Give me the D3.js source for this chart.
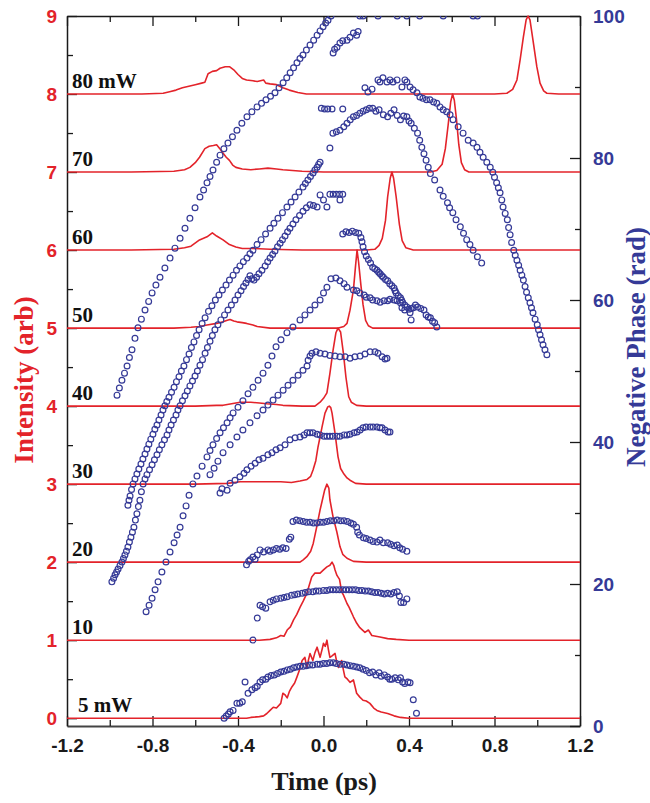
<!DOCTYPE html>
<html>
<head>
<meta charset="utf-8">
<script src="https://cdnjs.cloudflare.com/ajax/libs/d3/7.8.5/d3.min.js"></script>
<style>
  body { margin: 0; background: #fff; }
</style>
</head>
<body>
<script>
// ---- data: time (ps), intensity (arb, with offset) / negative phase (rad)

var seriesLabels = ["5 mW", "10", "20", "30", "40", "50", "60", "70", "80 mW"];
var levels = [0, 1, 2, 3, 4, 5, 6, 7, 8];

var xTicks = [-1.2, -0.8, -0.4, 0, 0.4, 0.8, 1.2];
var xMinor = [-1.0, -0.6, -0.2, 0.2, 0.6, 1.0];
var intensityTicks = [0, 1, 2, 3, 4, 5, 6, 7, 8, 9];
var intensityMinor = [0.5, 1.5, 2.5, 3.5, 4.5, 5.5, 6.5, 7.5, 8.5];
var phaseTicks = [0, 20, 40, 60, 80, 100];
var phaseMinor = [10, 30, 50, 70, 90];

var intensity5 = [[-1.2,0],[-0.6,0],[-0.4,0],[-0.36,0.0],[-0.34,0.01],[-0.3,0.02],[-0.28,0.03],[-0.265,0.06],[-0.25,0.1],[-0.235,0.14],[-0.22,0.13],[-0.2,0.19],[-0.19,0.32],[-0.18,0.3],[-0.17,0.26],[-0.16,0.34],[-0.148,0.4],[-0.135,0.45],[-0.124,0.53],[-0.112,0.62],[-0.1,0.74],[-0.087,0.78],[-0.078,0.65],[-0.07,0.75],[-0.063,0.83],[-0.05,0.74],[-0.04,0.84],[-0.03,0.91],[-0.016,0.78],[-0.005,0.9],[0.0,0.96],[0.008,0.92],[0.016,1.0],[0.023,0.88],[0.03,0.78],[0.04,0.8],[0.054,0.83],[0.062,0.72],[0.07,0.65],[0.085,0.74],[0.093,0.62],[0.1,0.53],[0.112,0.5],[0.124,0.46],[0.14,0.49],[0.148,0.4],[0.155,0.32],[0.17,0.27],[0.185,0.23],[0.2,0.22],[0.217,0.19],[0.235,0.13],[0.25,0.1],[0.27,0.08],[0.3,0.06],[0.33,0.03],[0.36,0.01],[0.4,0.0],[0.8,0.0],[1.2,0.0]];
var intensity10 = [[-1.2,1.0],[-0.6,1.0],[-0.35,1.0],[-0.3,1.0],[-0.25,1.01],[-0.22,1.03],[-0.2,1.06],[-0.185,1.05],[-0.17,1.13],[-0.155,1.17],[-0.14,1.26],[-0.125,1.33],[-0.11,1.42],[-0.095,1.5],[-0.078,1.6],[-0.065,1.72],[-0.055,1.81],[-0.04,1.86],[-0.016,1.86],[0.0,1.9],[0.016,1.94],[0.03,1.96],[0.04,2.0],[0.048,1.96],[0.054,1.9],[0.063,1.83],[0.075,1.78],[0.085,1.62],[0.093,1.58],[0.11,1.47],[0.12,1.42],[0.14,1.3],[0.155,1.22],[0.17,1.16],[0.194,1.1],[0.21,1.13],[0.226,1.06],[0.264,1.04],[0.3,1.02],[0.34,1.01],[0.4,1.0],[1.2,1.0]];
var intensity20 = [[-1.2,2.0],[-0.6,2.0],[-0.3,2.0],[-0.15,2.0],[-0.11,2.0],[-0.095,2.03],[-0.078,2.07],[-0.06,2.14],[-0.048,2.24],[-0.032,2.45],[-0.016,2.67],[-0.005,2.8],[0.005,2.92],[0.016,3.0],[0.025,2.95],[0.03,2.8],[0.044,2.59],[0.063,2.38],[0.077,2.2],[0.09,2.1],[0.11,2.05],[0.14,2.01],[0.2,2.0],[1.2,2.0]];
var intensity30 = [[-1.2,3.0],[-0.9,3.0],[-0.6,3.0],[-0.45,3.01],[-0.39,3.03],[-0.3,3.03],[-0.2,3.03],[-0.15,3.02],[-0.11,3.04],[-0.077,3.06],[-0.06,3.1],[-0.049,3.18],[-0.036,3.3],[-0.026,3.47],[-0.015,3.62],[-0.007,3.73],[0.007,3.91],[0.02,3.99],[0.027,4.0],[0.034,3.98],[0.04,3.91],[0.054,3.65],[0.068,3.35],[0.08,3.2],[0.093,3.14],[0.11,3.08],[0.124,3.05],[0.15,3.01],[0.2,3.0],[1.2,3.0]];
var intensity40 = [[-1.2,4.0],[-0.9,4.0],[-0.6,4.0],[-0.5,4.01],[-0.47,4.01],[-0.43,4.03],[-0.39,4.05],[-0.36,4.05],[-0.34,4.05],[-0.3,4.04],[-0.265,4.03],[-0.22,4.02],[-0.19,4.01],[-0.1,4.0],[-0.04,4.0],[-0.016,4.05],[0.0,4.1],[0.016,4.17],[0.03,4.42],[0.045,4.72],[0.058,4.94],[0.068,5.0],[0.08,4.95],[0.093,4.68],[0.105,4.37],[0.118,4.12],[0.13,4.05],[0.155,4.01],[0.2,4.0],[1.2,4.0]];
var intensity50 = [[-1.2,5.0],[-0.9,5.0],[-0.7,5.0],[-0.62,5.01],[-0.58,5.02],[-0.545,5.04],[-0.5,5.06],[-0.47,5.08],[-0.45,5.1],[-0.437,5.11],[-0.42,5.09],[-0.405,5.08],[-0.38,5.07],[-0.36,5.06],[-0.33,5.04],[-0.31,5.02],[-0.25,5.0],[0.0,5.0],[0.07,5.0],[0.095,5.02],[0.11,5.06],[0.124,5.23],[0.14,5.49],[0.15,5.8],[0.157,6.0],[0.164,5.85],[0.175,5.55],[0.185,5.3],[0.197,5.1],[0.21,5.03],[0.23,5.0],[1.2,5.0]];
var intensity60 = [[-1.2,6.0],[-0.9,6.0],[-0.7,6.01],[-0.65,6.03],[-0.62,6.05],[-0.58,6.13],[-0.545,6.17],[-0.52,6.22],[-0.5,6.18],[-0.47,6.13],[-0.44,6.07],[-0.41,6.04],[-0.38,6.02],[-0.33,6.02],[-0.25,6.01],[-0.1,6.0],[0.2,6.0],[0.24,6.01],[0.26,6.06],[0.275,6.15],[0.29,6.38],[0.3,6.68],[0.312,6.92],[0.32,7.0],[0.328,6.92],[0.34,6.68],[0.355,6.33],[0.368,6.12],[0.385,6.03],[0.42,6.0],[1.2,6.0]];
var intensity70 = [[-1.2,7.0],[-0.9,7.0],[-0.7,7.01],[-0.65,7.03],[-0.625,7.06],[-0.6,7.12],[-0.58,7.19],[-0.555,7.3],[-0.535,7.33],[-0.515,7.34],[-0.5,7.35],[-0.485,7.3],[-0.475,7.26],[-0.455,7.19],[-0.44,7.15],[-0.425,7.09],[-0.41,7.06],[-0.38,7.04],[-0.34,7.03],[-0.3,7.04],[-0.26,7.05],[-0.22,7.04],[-0.19,7.03],[-0.1,7.01],[0.0,7.0],[0.5,7.0],[0.53,7.02],[0.555,7.1],[0.57,7.3],[0.583,7.6],[0.595,7.9],[0.604,8.0],[0.612,7.92],[0.622,7.68],[0.633,7.35],[0.645,7.12],[0.66,7.03],[0.68,7.0],[1.2,7.0]];
var intensity80 = [[-1.2,8.0],[-1.0,8.0],[-0.85,8.0],[-0.75,8.01],[-0.72,8.03],[-0.69,8.05],[-0.66,8.08],[-0.63,8.1],[-0.6,8.12],[-0.57,8.14],[-0.555,8.15],[-0.54,8.26],[-0.52,8.29],[-0.5,8.3],[-0.484,8.33],[-0.46,8.35],[-0.44,8.35],[-0.42,8.31],[-0.4,8.25],[-0.38,8.2],[-0.36,8.18],[-0.33,8.17],[-0.31,8.16],[-0.28,8.18],[-0.27,8.14],[-0.25,8.13],[-0.22,8.12],[-0.19,8.08],[-0.16,8.05],[-0.12,8.02],[-0.08,8.0],[0.0,8.0],[0.5,8.0],[0.8,8.0],[0.858,8.01],[0.885,8.06],[0.905,8.18],[0.92,8.44],[0.935,8.73],[0.948,8.95],[0.957,9.0],[0.966,8.95],[0.98,8.69],[0.998,8.35],[1.013,8.14],[1.03,8.04],[1.045,8.01],[1.1,8.0],[1.2,8.0]];

var phase5 = [[-0.465,1.1],[-0.455,1.4],[-0.445,1.7],[-0.437,2.0],[-0.423,2.2],[-0.405,3.2],[-0.392,3.2],[-0.38,3.4],[-0.367,6.2],[-0.353,4.6],[-0.335,5.1],[-0.32,5.4],[-0.31,5.6],[-0.297,6.2],[-0.285,6.5],[-0.27,6.6],[-0.26,6.9],[-0.245,7.1],[-0.23,7.2],[-0.215,7.4],[-0.2,7.6],[-0.185,7.7],[-0.17,7.9],[-0.155,8.0],[-0.14,8.2],[-0.125,8.3],[-0.11,8.4],[-0.095,8.4],[-0.08,8.5],[-0.065,8.6],[-0.05,8.6],[-0.03,8.7],[-0.016,8.7],[0.0,8.8],[0.015,8.8],[0.03,8.9],[0.046,8.9],[0.06,8.8],[0.078,8.7],[0.095,8.7],[0.11,8.6],[0.125,8.5],[0.14,8.4],[0.155,8.3],[0.17,8.2],[0.185,8.0],[0.2,7.8],[0.215,7.5],[0.23,7.6],[0.245,7.2],[0.26,7.5],[0.27,7.0],[0.285,7.2],[0.3,6.9],[0.31,6.6],[0.32,6.6],[0.335,6.8],[0.35,6.5],[0.36,6.8],[0.37,6.2],[0.38,6.0],[0.395,6.2],[0.405,6.1],[0.42,3.7],[0.435,1.8]];
var phase10 = [[-0.33,12.1],[-0.31,15.2],[-0.297,17.0],[-0.285,16.8],[-0.27,16.6],[-0.25,17.5],[-0.235,17.7],[-0.22,17.9],[-0.2,18.0],[-0.185,18.1],[-0.17,18.2],[-0.15,18.4],[-0.135,18.5],[-0.12,18.6],[-0.1,18.7],[-0.085,18.8],[-0.07,18.9],[-0.05,18.9],[-0.035,19.0],[-0.02,19.0],[0.0,19.1],[0.015,19.1],[0.03,19.2],[0.045,19.2],[0.06,19.2],[0.075,19.2],[0.09,19.2],[0.105,19.2],[0.12,19.2],[0.135,19.2],[0.15,19.2],[0.165,19.1],[0.18,19.1],[0.195,19.0],[0.21,19.0],[0.225,18.9],[0.24,18.8],[0.255,18.8],[0.27,18.7],[0.285,18.6],[0.3,18.7],[0.315,18.6],[0.33,18.8],[0.345,18.9],[0.355,18.3],[0.362,17.4],[0.375,17.4],[0.39,17.9]];
var phase20 = [[-0.36,22.7],[-0.35,23.2],[-0.343,23.4],[-0.33,23.8],[-0.32,23.5],[-0.31,24.1],[-0.297,24.8],[-0.28,24.5],[-0.26,24.8],[-0.25,24.6],[-0.235,24.8],[-0.22,25.0],[-0.205,24.9],[-0.19,25.1],[-0.175,25.0],[-0.16,26.3],[-0.153,26.6],[-0.143,28.8],[-0.127,29.0],[-0.111,28.9],[-0.095,28.8],[-0.079,28.7],[-0.063,28.7],[-0.047,28.6],[-0.031,28.6],[-0.015,28.7],[0.0,28.7],[0.016,28.8],[0.032,28.9],[0.048,28.9],[0.064,29.0],[0.08,28.9],[0.096,28.9],[0.112,28.8],[0.128,28.6],[0.14,28.4],[0.155,28.0],[0.16,27.3],[0.168,26.9],[0.187,26.5],[0.2,26.4],[0.218,26.2],[0.232,26.0],[0.25,25.9],[0.264,26.2],[0.28,25.8],[0.3,25.8],[0.314,25.6],[0.33,25.4],[0.345,25.5],[0.357,25.1],[0.37,24.9],[0.39,24.6]];
var phase30 = [[-0.484,32.8],[-0.475,33.4],[-0.451,33.2],[-0.437,34.2],[-0.414,34.6],[-0.391,35.1],[-0.372,35.6],[-0.358,36.1],[-0.339,36.6],[-0.32,37.0],[-0.302,37.5],[-0.283,37.7],[-0.26,38.2],[-0.241,38.5],[-0.222,38.9],[-0.203,39.2],[-0.18,39.6],[-0.157,40.3],[-0.133,40.6],[-0.11,40.7],[-0.091,41.0],[-0.077,41.3],[-0.063,41.3],[-0.049,41.3],[-0.03,41.1],[-0.016,41.0],[0.002,40.8],[0.016,40.8],[0.03,40.8],[0.044,40.8],[0.063,40.8],[0.077,40.8],[0.096,41.0],[0.11,41.0],[0.124,41.1],[0.143,41.3],[0.157,41.4],[0.171,41.7],[0.185,42.0],[0.199,42.1],[0.218,42.1],[0.232,42.1],[0.25,42.1],[0.264,42.0],[0.274,42.0],[0.288,41.7],[0.302,41.4],[0.311,41.4]];
var phase40 = [[-0.531,35.4],[-0.512,36.3],[-0.494,37.3],[-0.47,38.5],[-0.437,39.6],[-0.405,40.7],[-0.377,41.7],[-0.344,42.7],[-0.311,43.7],[-0.283,44.5],[-0.26,45.2],[-0.236,45.9],[-0.213,46.6],[-0.189,47.3],[-0.166,48.0],[-0.143,48.7],[-0.119,49.4],[-0.096,50.1],[-0.077,50.7],[-0.072,51.5],[-0.063,52.1],[-0.054,52.5],[-0.035,52.7],[-0.016,52.5],[0.007,52.4],[0.03,52.2],[0.054,52.1],[0.077,52.0],[0.101,52.0],[0.124,51.8],[0.147,52.0],[0.171,52.1],[0.194,52.4],[0.218,52.7],[0.241,52.7],[0.255,52.5],[0.274,52.0],[0.288,51.7],[0.297,51.8]];
var phase50 = [[-0.83,16.1],[-0.816,17.0],[-0.802,18.0],[-0.788,19.2],[-0.774,20.3],[-0.756,21.7],[-0.737,23.1],[-0.718,24.5],[-0.699,25.8],[-0.685,26.9],[-0.671,28.0],[-0.657,29.6],[-0.643,31.0],[-0.629,32.5],[-0.611,34.1],[-0.592,35.2],[-0.568,36.6],[-0.545,37.9],[-0.531,38.8],[-0.517,39.6],[-0.5,40.5],[-0.484,41.3],[-0.468,42.0],[-0.451,42.7],[-0.437,43.4],[-0.423,44.1],[-0.4,44.9],[-0.377,45.8],[-0.353,46.8],[-0.33,47.7],[-0.306,48.7],[-0.283,49.7],[-0.26,50.8],[-0.241,52.1],[-0.222,53.4],[-0.199,54.4],[-0.171,55.4],[-0.143,56.2],[-0.11,57.2],[-0.087,57.9],[-0.063,58.6],[-0.04,59.3],[-0.016,60.0],[0.0,61.0],[0.016,61.8],[0.035,63.0],[0.058,63.1],[0.077,62.7],[0.096,62.3],[0.11,61.8],[0.14,61.4],[0.156,61.3],[0.17,61.0],[0.19,60.7],[0.2,60.4],[0.218,60.3],[0.23,60.0],[0.25,59.9],[0.265,59.7],[0.283,59.9],[0.3,59.9],[0.311,60.1],[0.33,60.0],[0.344,59.9],[0.36,59.6],[0.367,58.9],[0.38,58.6],[0.405,58.2],[0.41,57.2]];
var phase60 = [[-0.99,20.3],[-0.982,20.8],[-0.975,21.3],[-0.968,21.7],[-0.961,22.1],[-0.952,22.6],[-0.943,23.1],[-0.936,23.6],[-0.929,24.1],[-0.922,24.6],[-0.915,25.2],[-0.908,25.9],[-0.901,26.6],[-0.894,27.3],[-0.887,28.0],[-0.88,29.0],[-0.873,29.9],[-0.866,30.9],[-0.859,31.8],[-0.852,33.0],[-0.844,34.1],[-0.835,34.8],[-0.826,35.4],[-0.814,36.1],[-0.802,36.8],[-0.791,37.5],[-0.779,38.2],[-0.768,38.9],[-0.756,39.6],[-0.744,40.3],[-0.732,41.0],[-0.723,41.7],[-0.713,42.4],[-0.702,43.1],[-0.69,43.8],[-0.681,44.5],[-0.671,45.1],[-0.66,45.8],[-0.648,46.5],[-0.637,47.2],[-0.625,47.9],[-0.613,48.6],[-0.601,49.3],[-0.59,50.0],[-0.578,50.8],[-0.566,51.6],[-0.554,52.5],[-0.543,53.3],[-0.531,54.2],[-0.52,55.0],[-0.508,55.8],[-0.494,56.5],[-0.48,57.2],[-0.463,57.9],[-0.447,58.6],[-0.431,59.3],[-0.414,60.0],[-0.4,60.7],[-0.386,61.3],[-0.374,61.9],[-0.363,62.4],[-0.353,62.9],[-0.344,63.4],[-0.335,63.0],[-0.325,62.8],[-0.313,63.2],[-0.302,63.7],[-0.288,64.2],[-0.273,64.8],[-0.261,65.4],[-0.25,65.9],[-0.238,66.4],[-0.227,66.9],[-0.215,67.5],[-0.203,68.0],[-0.192,68.5],[-0.18,69.0],[-0.168,69.6],[-0.157,70.1],[-0.143,70.7],[-0.129,71.3],[-0.112,71.9],[-0.096,72.5],[-0.08,73.0],[-0.063,73.4],[-0.047,73.3],[-0.03,73.1],[-0.016,74.8],[0.0,74.1],[0.016,73.1],[0.03,74.9],[0.045,74.9],[0.06,74.9],[0.075,74.9],[0.09,74.9],[0.077,74.1],[0.09,69.3],[0.105,69.6],[0.12,69.5],[0.135,69.7],[0.15,69.5],[0.165,69.4],[0.175,68.8],[0.18,68.2],[0.185,67.5],[0.192,66.8],[0.2,66.2],[0.21,65.7],[0.22,65.2],[0.23,64.6],[0.24,64.4],[0.25,64.2],[0.258,63.9],[0.265,63.7],[0.273,63.4],[0.28,63.2],[0.29,62.9],[0.3,62.7],[0.31,62.3],[0.32,62.0],[0.33,61.7],[0.335,61.3],[0.34,61.0],[0.35,60.6],[0.36,60.3],[0.365,60.0],[0.37,59.7],[0.38,59.3],[0.39,59.0],[0.4,58.7],[0.41,58.8],[0.42,58.9],[0.43,59.3],[0.44,59.0],[0.455,58.8],[0.47,58.6],[0.48,57.9],[0.49,57.6],[0.5,57.5],[0.51,57.0],[0.52,56.8],[0.53,56.2]];
var phase70 = [[-0.915,31.1],[-0.91,31.8],[-0.905,32.4],[-0.898,33.3],[-0.891,34.1],[-0.882,34.8],[-0.873,35.5],[-0.864,36.2],[-0.854,36.9],[-0.845,37.6],[-0.835,38.3],[-0.826,39.0],[-0.817,39.7],[-0.808,40.4],[-0.798,41.1],[-0.789,41.8],[-0.779,42.4],[-0.77,43.1],[-0.76,43.8],[-0.751,44.5],[-0.742,45.1],[-0.733,45.7],[-0.723,46.3],[-0.711,47.0],[-0.699,47.7],[-0.688,48.5],[-0.676,49.2],[-0.665,50.0],[-0.653,50.7],[-0.641,51.6],[-0.629,52.4],[-0.618,53.3],[-0.606,54.1],[-0.594,55.0],[-0.582,55.8],[-0.568,56.7],[-0.554,57.5],[-0.538,58.4],[-0.522,59.2],[-0.506,60.0],[-0.489,60.7],[-0.473,61.4],[-0.456,62.1],[-0.44,62.8],[-0.423,63.5],[-0.407,64.2],[-0.391,64.8],[-0.375,65.4],[-0.358,65.9],[-0.344,66.5],[-0.33,67.0],[-0.311,67.8],[-0.292,68.5],[-0.271,69.3],[-0.25,70.1],[-0.232,70.8],[-0.213,71.5],[-0.192,72.3],[-0.171,73.1],[-0.152,73.8],[-0.133,74.5],[-0.115,75.2],[-0.096,75.9],[-0.085,76.4],[-0.073,76.9],[-0.061,77.4],[-0.049,77.9],[-0.04,78.3],[-0.03,78.7],[-0.023,79.1],[-0.016,79.4],[-0.01,87.0],[0.005,86.9],[0.02,86.9],[0.04,86.9],[0.09,86.9],[0.03,81.4],[0.044,83.5],[0.06,83.7],[0.077,83.9],[0.095,84.4],[0.11,84.9],[0.125,85.4],[0.14,85.8],[0.155,86.0],[0.17,86.3],[0.185,86.6],[0.2,86.8],[0.215,87.0],[0.23,87.0],[0.245,86.6],[0.26,86.8],[0.28,86.1],[0.3,85.8],[0.315,86.3],[0.33,86.8],[0.345,86.0],[0.36,85.4],[0.375,85.9],[0.39,85.8],[0.4,85.2],[0.41,84.9],[0.425,84.2],[0.44,83.5],[0.45,82.5],[0.46,81.5],[0.47,80.6],[0.48,79.7],[0.49,78.7],[0.5,77.8],[0.52,76.9],[0.545,75.5],[0.56,74.6],[0.58,73.7],[0.59,73.0],[0.605,72.3],[0.62,71.3],[0.64,70.3],[0.655,69.4],[0.67,68.5],[0.685,67.8],[0.7,67.0],[0.72,66.1],[0.74,65.2]];
var phase80 = [[-0.966,46.6],[-0.955,47.6],[-0.943,48.7],[-0.931,49.7],[-0.919,50.7],[-0.908,51.9],[-0.896,53.0],[-0.882,54.6],[-0.868,56.1],[-0.852,57.3],[-0.835,58.6],[-0.818,59.8],[-0.802,61.0],[-0.784,62.1],[-0.765,63.2],[-0.742,64.5],[-0.718,65.9],[-0.695,67.3],[-0.671,68.7],[-0.648,70.1],[-0.625,71.5],[-0.601,73.0],[-0.578,74.5],[-0.561,75.5],[-0.545,76.5],[-0.531,77.4],[-0.517,78.3],[-0.5,79.4],[-0.484,80.4],[-0.466,81.3],[-0.447,82.1],[-0.426,83.0],[-0.405,83.9],[-0.382,84.9],[-0.358,85.8],[-0.335,86.5],[-0.311,87.2],[-0.29,87.7],[-0.269,88.2],[-0.248,88.7],[-0.227,89.2],[-0.208,89.9],[-0.189,90.6],[-0.172,91.3],[-0.156,92.0],[-0.14,92.7],[-0.124,93.4],[-0.11,94.0],[-0.096,94.5],[-0.08,95.2],[-0.063,95.9],[-0.046,96.6],[-0.03,97.3],[-0.016,97.9],[-0.002,98.5],[0.01,99.0],[0.021,99.4],[0.035,100],[0.045,94.8],[0.052,95.3],[0.063,95.6],[0.077,96.2],[0.09,96.5],[0.11,96.6],[0.124,97.0],[0.14,97.6],[0.155,97.3],[0.162,97.8],[0.17,100],[0.185,100],[0.255,100],[0.345,100],[0.39,100],[0.45,100],[0.56,100],[0.7,100],[0.72,100],[0.194,89.9],[0.208,89.3],[0.227,89.7],[0.255,91.0],[0.264,90.7],[0.278,91.3],[0.297,90.7],[0.311,91.0],[0.325,90.7],[0.344,91.0],[0.367,90.0],[0.381,91.0],[0.39,90.7],[0.405,90.0],[0.419,89.6],[0.437,89.2],[0.451,88.6],[0.465,88.4],[0.482,88.2],[0.498,88.2],[0.515,87.9],[0.53,87.7],[0.545,87.2],[0.56,86.8],[0.576,86.5],[0.592,86.1],[0.606,85.4],[0.63,84.4],[0.653,83.5],[0.677,82.5],[0.7,82.1],[0.718,81.5],[0.732,80.8],[0.747,80.1],[0.764,79.4],[0.78,78.7],[0.792,78.0],[0.8,77.3],[0.81,76.5],[0.818,75.8],[0.826,75.1],[0.834,74.1],[0.84,73.1],[0.85,72.2],[0.86,71.3],[0.866,70.2],[0.873,69.2],[0.88,68.1],[0.89,67.0],[0.897,66.3],[0.905,65.6],[0.913,64.9],[0.92,64.2],[0.928,63.5],[0.935,62.8],[0.943,61.9],[0.95,61.1],[0.958,60.3],[0.966,59.6],[0.973,58.9],[0.98,58.2],[0.99,57.3],[1.0,56.5],[1.006,55.8],[1.013,55.1],[1.02,54.4],[1.027,53.7],[1.036,53.0],[1.045,52.3]];

var intensityData = [intensity5, intensity10, intensity20, intensity30, intensity40, intensity50, intensity60, intensity70, intensity80];
var phaseData = [phase5, phase10, phase20, phase30, phase40, phase50, phase60, phase70, phase80];

(function() {

    var width = 650,
        height = 803;

    var red = "#e3232a",
        blue = "#353a97",
        ink = "#1a1a1a";

    var sansFont = "'Liberation Sans', Arial, Helvetica, sans-serif",
        serifFont = "'Liberation Serif', 'Times New Roman', Times, serif";

    var svg = d3.select("body")
        .append("svg")
        .attr("width", width)
        .attr("height", height);

    svg.append("rect")
        .attr("width", width)
        .attr("height", height)
        .attr("fill", "#fff");

    // plot box: 67..580 horizontally, 16..726 vertically
    var x = d3.scaleLinear().domain([-1.2, 1.2]).range([67, 580]);
    var yI = d3.scaleLinear().domain([-0.1, 9]).range([726, 16]);
    var yP = d3.scaleLinear().domain([0, 100]).range([726, 16]);

    svg.append("defs").append("clipPath")
        .attr("id", "plot-clip")
        .append("rect")
        .attr("x", 67)
        .attr("y", 16)
        .attr("width", 513)
        .attr("height", 710);

    var series = seriesLabels.map(function(label, i) {
        return { label: label, level: levels[i], intensity: intensityData[i], phase: phaseData[i] };
    });

    // ---- axes (ticks point inward)

    function styleAxis(g, color) {
        g.select(".domain").attr("stroke", ink).attr("stroke-width", 1.5);
        g.selectAll(".tick line").attr("stroke", ink).attr("stroke-width", 1.3);
        g.attr("font-family", sansFont)
            .attr("font-size", 19)
            .attr("font-weight", "bold");
        g.selectAll("text").attr("fill", color);
    }

    function minorTicks(g) {
        g.select(".domain").remove();
        g.selectAll(".tick line").attr("stroke", ink).attr("stroke-width", 1.3);
        g.selectAll("text").remove();
    }

    var fmtTime = function(d) { return d.toFixed(1); };

    svg.append("g")
        .attr("transform", "translate(0,726)")
        .call(d3.axisBottom(x).tickValues(xTicks).tickFormat(fmtTime)
            .tickSizeInner(-10).tickSizeOuter(0).tickPadding(13))
        .call(styleAxis, ink)
        .call(function(g) { g.select(".domain").attr("stroke", "#444").attr("stroke-width", 2.2); });

    svg.append("g")
        .attr("transform", "translate(0,726)")
        .call(d3.axisBottom(x).tickValues(xMinor).tickFormat("").tickSizeInner(-6).tickSizeOuter(0))
        .call(minorTicks);

    svg.append("g")
        .attr("transform", "translate(0,16)")
        .call(d3.axisTop(x).tickValues(xTicks).tickFormat("").tickSizeInner(-10).tickSizeOuter(0))
        .call(styleAxis, ink);

    svg.append("g")
        .attr("transform", "translate(0,16)")
        .call(d3.axisTop(x).tickValues(xMinor).tickFormat("").tickSizeInner(-6).tickSizeOuter(0))
        .call(minorTicks);

    svg.append("g")
        .attr("transform", "translate(67,0)")
        .call(d3.axisLeft(yI).tickValues(intensityTicks).tickFormat(d3.format("d"))
            .tickSizeInner(-10).tickSizeOuter(0).tickPadding(10))
        .call(styleAxis, red);

    svg.append("g")
        .attr("transform", "translate(67,0)")
        .call(d3.axisLeft(yI).tickValues(intensityMinor).tickFormat("").tickSizeInner(-6).tickSizeOuter(0))
        .call(minorTicks);

    svg.append("g")
        .attr("transform", "translate(580,0)")
        .call(d3.axisRight(yP).tickValues(phaseTicks).tickFormat(d3.format("d"))
            .tickSizeInner(-10).tickSizeOuter(0).tickPadding(13))
        .call(styleAxis, blue);

    svg.append("g")
        .attr("transform", "translate(580,0)")
        .call(d3.axisRight(yP).tickValues(phaseMinor).tickFormat("").tickSizeInner(-5).tickSizeOuter(0))
        .call(minorTicks);

    // ---- intensity traces (red)

    var line = d3.line()
        .x(function(d) { return x(d[0]); })
        .y(function(d) { return yI(d[1]); });

    svg.append("g")
        .selectAll("path")
        .data(series)
        .enter().append("path")
        .attr("d", function(d) { return line(d.intensity); })
        .attr("fill", "none")
        .attr("stroke", red)
        .attr("stroke-width", 1.6)
        .attr("stroke-linejoin", "round");

    // ---- phase points (open blue circles)

    var dots = svg.append("g").attr("clip-path", "url(#plot-clip)");

    series.forEach(function(s) {
        dots.append("g")
            .selectAll("circle")
            .data(s.phase)
            .enter().append("circle")
            .attr("cx", function(d) { return x(d[0]); })
            .attr("cy", function(d) { return yP(d[1]); })
            .attr("r", 2.9)
            .attr("fill", "none")
            .attr("stroke", blue)
            .attr("stroke-width", 1.2);
    });

    // ---- power labels above each baseline

    svg.append("g")
        .selectAll("text")
        .data(series)
        .enter().append("text")
        .attr("x", function(d) { return d.level === 0 ? 78 : 72; })
        .attr("y", function(d) { return yI(d.level) - 6; })
        .attr("font-family", serifFont)
        .attr("font-weight", "bold")
        .attr("font-size", 21)
        .attr("fill", "#111")
        .text(function(d) { return d.label; });

    // ---- axis titles

    svg.append("text")
        .attr("transform", "translate(33,380) rotate(-90)")
        .attr("text-anchor", "middle")
        .attr("font-family", serifFont)
        .attr("font-weight", "bold")
        .attr("font-size", 27)
        .attr("fill", red)
        .text("Intensity (arb)");

    svg.append("text")
        .attr("transform", "translate(645,347) rotate(-90)")
        .attr("text-anchor", "middle")
        .attr("font-family", serifFont)
        .attr("font-weight", "bold")
        .attr("font-size", 27)
        .attr("fill", blue)
        .text("Negative Phase (rad)");

    svg.append("text")
        .attr("x", 324)
        .attr("y", 790)
        .attr("text-anchor", "middle")
        .attr("font-family", serifFont)
        .attr("font-weight", "bold")
        .attr("font-size", 26)
        .attr("fill", ink)
        .text("Time (ps)");

})();
</script>
</body>
</html>
